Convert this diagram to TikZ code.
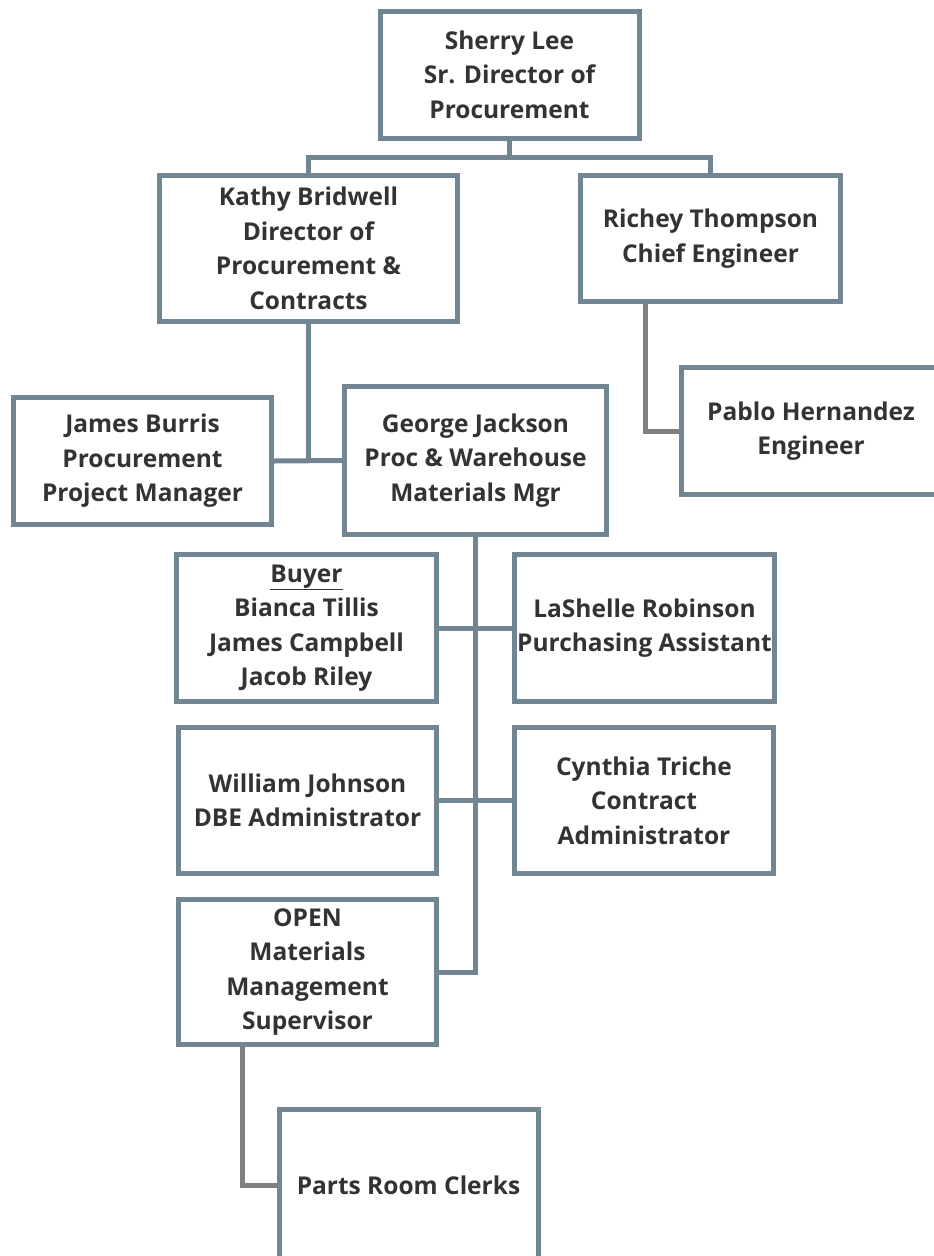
\documentclass[tikz,border=0pt]{standalone}
\usepackage{fontspec}
\setmainfont{Open Sans}
\usepackage{tikz}

\definecolor{boxline}{HTML}{728593}
\definecolor{greyline}{HTML}{808080}
\definecolor{txt}{HTML}{333333}

\tikzset{
	unit/.style={draw=boxline, line width=5pt, fill=white, align=center,
		text=txt, font=\fontsize{24.5}{34.5}\selectfont\bfseries,
		minimum width=259pt, minimum height=127pt, inner sep=0pt},
	link/.style={draw=boxline, line width=5pt},
	greylink/.style={draw=greyline, line width=5pt},
}

\begin{document}
\begin{tikzpicture}[x=1pt, y=-1pt]
		\useasboundingbox (0,0) rectangle (934,1256);
		% people
		\node[unit] (sherry)   at (509.5,74.5) {Sherry Lee\\Sr. Director of\\Procurement};
		\node[unit, minimum width=298pt, minimum height=146pt] (kathy) at (308.5,248.5) {Kathy Bridwell\\Director of\\Procurement \&\\Contracts};
		\node[unit, minimum width=260pt, minimum height=126pt] (richey) at (710.5,238.5) {Richey Thompson\\Chief Engineer};
		\node[unit] (pablo)    at (811,431) {Pablo Hernandez\\Engineer};
		\node[unit, minimum width=258pt] (burris) at (142.5,461) {James Burris\\Procurement\\Project Manager};
		\node[unit, minimum width=262pt, minimum height=148pt] (george) at (475.5,460.5) {George Jackson\\Proc \& Warehouse\\Materials Mgr};
		\node[unit, minimum width=260pt, minimum height=147pt] (buyer) at (306.5,628) {\underline{Buyer}\\Bianca Tillis\\James Campbell\\Jacob Riley};
		\node[unit, minimum width=260pt, minimum height=147pt] (lashelle) at (644.5,628) {LaShelle Robinson\\Purchasing Assistant};
		\node[unit, minimum width=258pt, minimum height=146pt] (william) at (307.5,800.5) {William Johnson\\DBE Administrator};
		\node[unit, minimum height=146pt] (cynthia) at (644,800.5) {Cynthia Triche\\Contract\\Administrator};
		\node[unit, minimum width=258pt, minimum height=145pt] (open) at (307.5,972) {OPEN\\Materials\\Management\\Supervisor};
		\node[unit, minimum height=152pt] (parts) at (408.5,1185) {Parts Room Clerks};
		% lines
		\draw[link] (sherry.south) -- ++(0,17);
		\draw[link] (kathy.north) -- ++(0,-16) -| (richey.north);
		\draw[link] (kathy.south) |- (george.west);
		\draw[link] (burris.east) -- (george.west);
		\draw[link] (george.south) |- (open.east);
		\draw[link] (buyer.east) -- (lashelle.west);
		\draw[link] (william.east) -- (cynthia.west);
		\draw[greylink] ([xshift=-65.5pt]richey.south) |- (pablo.west);
		\draw[greylink] ([xshift=-65.5pt]open.south) |- (parts.west);
		\end{tikzpicture}
\end{document}
